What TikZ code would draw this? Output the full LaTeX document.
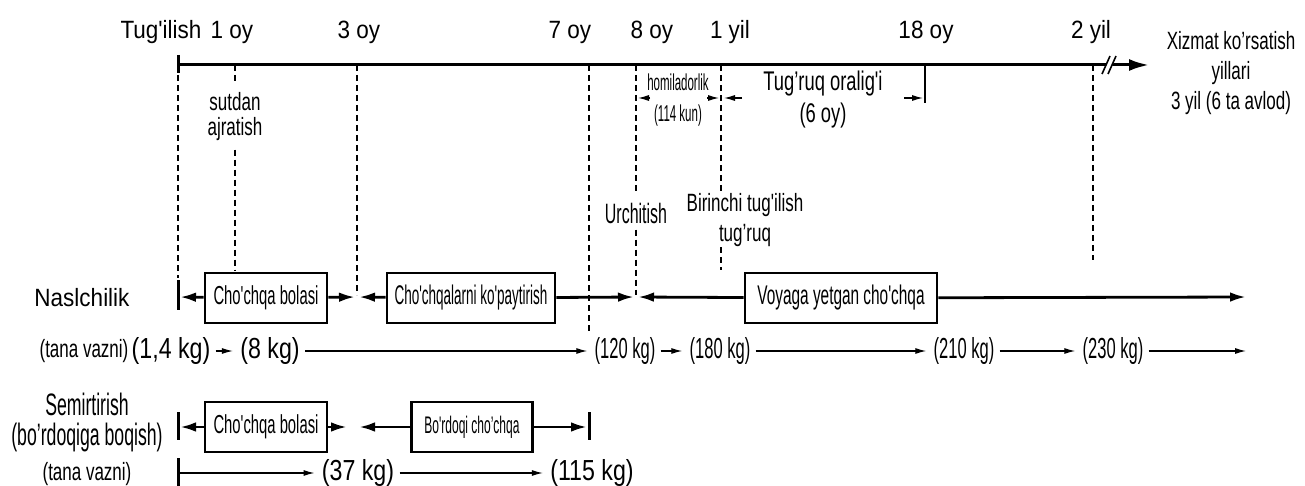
\documentclass[tikz,border=0pt]{standalone}
\usepackage{fontspec}
\newfontfamily\regf{Liberation Sans}[FakeStretch=0.9]
\newfontfamily\midf{Liberation Sans}[FakeStretch=0.8]
\newfontfamily\condf{Liberation Sans}[FakeStretch=0.68]
\newfontfamily\narrowf{Liberation Sans}[FakeStretch=0.57]
\newfontfamily\slimf{Liberation Sans}[FakeStretch=0.5]
\usetikzlibrary{arrows.meta}

\begin{document}
\begin{tikzpicture}[x=0.5pt,y=-0.5pt,shorten >=1pt,
   font=\regf\fontsize{12.5}{15}\selectfont,
   every node/.style={inner sep=0pt,align=center},
   cond/.style={font=\condf\fontsize{12.5}{15}\selectfont},
   stage/.style={draw,line width=1.3pt,minimum height=25pt,
                 font=\narrowf\fontsize{13.5}{15}\selectfont},
   heavy/.style={-{Latex[length=8pt,width=4.8pt]},line width=1.4pt},
   light/.style={-{Latex[length=5.5pt,width=3pt]},line width=0.6pt},
   guide/.style={line width=0.6pt,dash pattern=on 3pt off 2pt},
   wt/.style={font=\narrowf\fontsize{14.5}{16}\selectfont,inner sep=2.5pt},
   wtb/.style={font=\midf\fontsize{14.5}{16}\selectfont,inner sep=2.5pt}]
   \useasboundingbox (0,0) rectangle (1305,486);

   % time axis
   \coordinate (t0)   at (178,65);
   \coordinate (t1)   at (235,65);
   \coordinate (t3)   at (357,65);
   \coordinate (t7)   at (589,65);
   \coordinate (t8)   at (636,65);
   \coordinate (t12)  at (721,65);
   \coordinate (t18)  at (925,65);
   \coordinate (t24)  at (1093,65);
   \coordinate (tend) at (1149,65);
   \draw[-{Latex[length=10pt,width=6pt]},line width=1.5pt,shorten >=0pt] (t0) -- (tend);
   \draw[line width=1.5pt] (t0) ++(0,-10) -- ++(0,20);
   \fill[white] (1103,74) -- (1109,74) -- (1116,56) -- (1110,56) -- cycle;
   \draw[line width=0.8pt,shorten >=0pt] (1102,74) -- (1110,56) (1108,74) -- (1116,56);

   \node[anchor=base] (l0)  at (161,39)  {Tug'ilish};
   \node[anchor=base] (l1)  at (232,39)  {1 oy};
   \node[anchor=base] (l3)  at (359,39)  {3 oy};
   \node[anchor=base] (l7)  at (570,39)  {7 oy};
   \node[anchor=base] (l8)  at (652,39)  {8 oy};
   \node[anchor=base] (l12) at (730,39)  {1 yil};
   \node[anchor=base] (l18) at (926,39)  {18 oy};
   \node[anchor=base] (l24) at (1091,39) {2 yil};
   \node[cond,anchor=north] (serv) at (1231,31) {Xizmat ko’rsatish\\yillari\\3 yil (6 ta avlod)};

   % events on the axis
   \node[font=\condf\fontsize{12.5}{12.5}\selectfont,inner sep=4pt] (wean) at (235,117) {sutdan\\ajratish};
   \node[font=\narrowf\fontsize{14}{15}\selectfont,inner sep=3pt] (mate) at (636,213) {Urchitish};
   \node[cond] (birth) at (745,220) {Birinchi tug'ilish\\tug’ruq};
   \node[font=\slimf\fontsize{11.5}{15.5}\selectfont] (preg) at (678,100) {homiladorlik\\(114 kun)};
   \node[font=\condf\fontsize{13.5}{16}\selectfont] (gap) at (823,100) {Tug’ruq oralig'i\\(6 oy)};
   \coordinate (p0) at (636,98);
   \coordinate (p1) at (721,98);
   \coordinate (p2) at (722,98);
   \coordinate (p3) at (925,98);
   \draw[light] ([xshift=7pt]p0) -- (p0);
   \draw[light] ([xshift=-7pt]p1) -- (p1);
   \draw[light] ([xshift=10pt]p2) -- (p2);
   \draw[light] ([xshift=-10.5pt]p3) -- (p3);

   % breeding row
   \node (brd) at (82,298) {Naslchilik};
   \coordinate (n0)   at (178,297);
   \coordinate (n3)   at (357,297);
   \coordinate (n8)   at (636,297);
   \coordinate (nend) at (1248,297);
   \node[stage,minimum width=61pt,font=\narrowf\fontsize{13}{15}\selectfont] (b1) at (266,298) {Cho'chqa bolasi};
   \node[stage,minimum width=84pt,font=\slimf\fontsize{13.5}{15}\selectfont] (b2) at (471,298) {Cho'chqalarni ko'paytirish};
   \node[stage,minimum width=96pt] (b3) at (841,298) {Voyaga yetgan cho'chqa};

   \draw[guide] (t0) -- ++(0,215);
   \draw[guide] (t1) -- (wean.north);
   \draw[guide] (wean.south) -- (wean.south |- b1.north);
   \draw[guide] (t3) -- (n3);
   \draw[guide] (t7) -- ++(0,270);
   \draw[guide] (t8) -- (mate.north);
   \draw[guide] (mate.south) -- (n8);
   \draw[guide] (t12) -- (t12 |- birth.north);
   \draw[guide] (t12 |- birth.south) -- (t12 |- b3.north);
   \draw[line width=0.8pt] (t18) -- ++(0,40);
   \draw[guide,line width=1.2pt] (t24) -- ++(0,197);

   \draw[line width=1.5pt] (n0) ++(0,-17) -- ++(0,32);
   \path[heavy] (b1) edge (n0) edge (n3)
                (b2) edge (n3) edge (n8)
                (b3) edge (n8) edge (nend);

   % body weight
   \node[cond] (wlbl) at (84,351) {(tana vazni)};
   \node[wtb] (w1) at (171,351) {(1,4 kg)};
   \node[wtb] (w2) at (270,351) {(8 kg)};
   \node[wt] (w3) at (625,351)  {(120 kg)};
   \node[wt] (w4) at (720,351)  {(180 kg)};
   \node[wt] (w5) at (964,351)  {(210 kg)};
   \node[wt] (w6) at (1113,351) {(230 kg)};
   \coordinate (wend) at (1248,351);
   \path[light] (w1) edge (w2) (w2) edge (w3) (w3) edge (w4)
                (w4) edge (w5) (w5) edge (w6) (w6) edge (wend);

   % fattening row
   \node[font=\narrowf\fontsize{15.5}{15}\selectfont] (fat) at (87,422) {Semirtirish\\(bo’rdoqiga boqish)};
   \coordinate (s0) at (178,427);
   \coordinate (s1) at (349,427);
   \coordinate (s2) at (357,427);
   \coordinate (s3) at (589,427);
   \node[stage,minimum width=61pt,font=\narrowf\fontsize{13}{15}\selectfont] (c1) at (266,427) {Cho'chqa bolasi};
   \node[stage,minimum width=60.5pt,font=\slimf\fontsize{12}{14}\selectfont] (c2) at (472,427) {Bo'rdoqi cho’chqa};
   \draw[line width=1.5pt] (s0) ++(0,-15) -- ++(0,30);
   \draw[line width=1.5pt] (s3) ++(0,-15) -- ++(0,30);
   \path[heavy] (c1) edge (s0) edge (s1)
                (c2) edge (s2) edge (s3);

   \node[cond] (wlbl2) at (87,474) {(tana vazni)};
   \coordinate (r0) at (178,473);
   \draw[line width=1.5pt] (r0) ++(0,-15) -- ++(0,30);
   \node[wtb] (v1) at (358,473) {(37 kg)};
   \node[wtb] (v2) at (592,473) {(115 kg)};
   \path[light] (r0) edge (v1) (v1) edge (v2);
\end{tikzpicture}
\end{document}
